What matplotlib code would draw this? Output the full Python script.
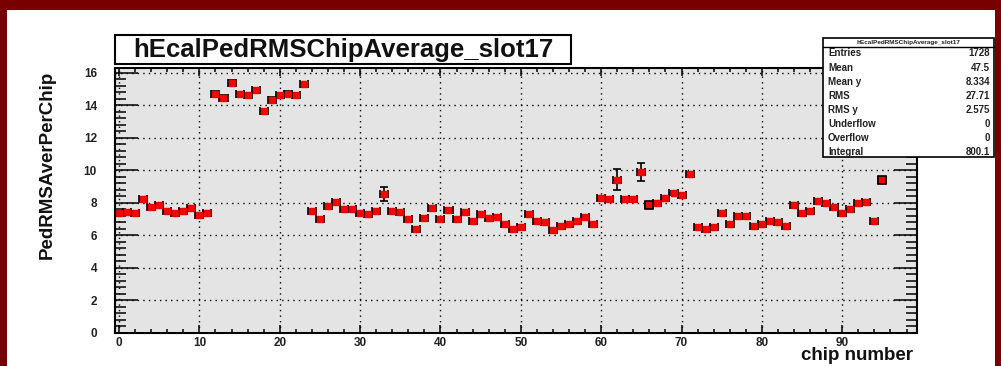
import matplotlib
matplotlib.use("Agg")
import matplotlib.pyplot as plt
from matplotlib.patches import Rectangle
from matplotlib.ticker import MultipleLocator
import numpy as np

plt.rcParams['font.family'] = ['Liberation Sans', 'DejaVu Sans']

# ---------------- data ----------------
chips = list(range(96))
rms_values = [
    7.34, 7.44, 7.34, 8.20, 7.75, 7.85, 7.50, 7.34, 7.50, 7.65, 7.24, 7.34,
    14.70, 14.46, 15.38, 14.66, 14.60, 14.90, 13.62, 14.34, 14.60, 14.70, 14.60, 15.28,
    7.46, 6.97, 7.78, 8.04, 7.61, 7.61, 7.35, 7.29, 7.51, 8.54, 7.46, 7.40,
    6.99, 6.39, 7.03, 7.68, 6.99, 7.53, 6.97, 7.40, 6.88, 7.29, 7.03, 7.14,
    6.67, 6.39, 6.49, 7.31, 6.88, 6.82, 6.32, 6.54, 6.67, 6.88, 7.10, 6.67,
    8.27, 8.21, 9.42, 8.21, 8.21, 9.88, 7.85, 8.00, 8.31, 8.58, 8.48, 9.79,
    6.50, 6.40, 6.50, 7.38, 6.67, 7.17, 7.17, 6.54, 6.71, 6.88, 6.81, 6.54,
    7.85, 7.38, 7.50, 8.12, 8.00, 7.75, 7.38, 7.58, 8.00, 8.06, 6.88, 9.38,
]
rms_errors = [
    0.12, 0.12, 0.12, 0.12, 0.12, 0.12, 0.12, 0.12, 0.12, 0.12, 0.12, 0.12,
    0.14, 0.14, 0.14, 0.14, 0.14, 0.14, 0.14, 0.14, 0.14, 0.14, 0.14, 0.14,
    0.12, 0.12, 0.12, 0.12, 0.12, 0.12, 0.12, 0.12, 0.12, 0.45, 0.12, 0.12,
    0.12, 0.12, 0.12, 0.12, 0.12, 0.12, 0.12, 0.12, 0.12, 0.12, 0.12, 0.12,
    0.12, 0.12, 0.12, 0.12, 0.12, 0.12, 0.12, 0.12, 0.12, 0.12, 0.12, 0.12,
    0.12, 0.12, 0.62, 0.12, 0.12, 0.54, 0.15, 0.12, 0.12, 0.12, 0.12, 0.12,
    0.12, 0.12, 0.12, 0.12, 0.12, 0.12, 0.12, 0.12, 0.12, 0.12, 0.12, 0.12,
    0.12, 0.12, 0.12, 0.12, 0.12, 0.12, 0.12, 0.12, 0.12, 0.12, 0.12, 0.15,
]
outlined_chips = [66, 95]

title_text = "hEcalPedRMSChipAverage_slot17"
x_label = "chip number"
y_label = "PedRMSAverPerChip"
stats_names = ["Entries", "Mean", "Mean y", "RMS", "RMS y", "Underflow", "Overflow", "Integral"]
stats_values = ["1728", "47.5", "8.334", "27.71", "2.575", "0", "0", "800.1"]

# ---------------- figure ----------------
W, H = 1001, 366
fig = plt.figure(figsize=(W / 100, H / 100), dpi=100, facecolor="#780000")

def fx(px):
    return px / W

def fy(py):
    return 1 - py / H

# white canvas inside dark-red border
fig.patches.append(Rectangle((fx(7), 0), fx(995) - fx(7), fy(10), transform=fig.transFigure,
                             facecolor="white", edgecolor="none", zorder=-5))

ax_l, ax_r, ax_t, ax_b = 115, 917, 67.7, 332.7
ax = fig.add_axes([fx(ax_l), fy(ax_b), fx(ax_r) - fx(ax_l), fy(ax_t) - fy(ax_b)])
ax.set_zorder(1)
ax.set_facecolor("#e4e4e4")

x = np.array(chips)
y = np.array(rms_values)
e = np.array(rms_errors)
ax.errorbar(x, y, xerr=0.5, yerr=e, fmt="none", ecolor="black", elinewidth=1.2,
            capsize=2.6, capthick=1.2, zorder=3)
ax.plot(x, y, linestyle="none", marker="s", markersize=4.2, color="#ff0000",
        markeredgecolor="#ee0000", zorder=4)
ox = np.array(outlined_chips)
ax.plot(ox, y[ox], linestyle="none", marker="s", markersize=5.6, color="#ff0000",
        markeredgecolor="black", markeredgewidth=1.2, zorder=5)

ax.set_xlim(-0.5, 99.3)
ax.set_ylim(0, 16.3)
ax.xaxis.set_major_locator(MultipleLocator(10))
ax.xaxis.set_minor_locator(MultipleLocator(2))
ax.yaxis.set_major_locator(MultipleLocator(2))
ax.yaxis.set_minor_locator(MultipleLocator(0.4))

ax.grid(True, which="major", color="black", linestyle=(0, (1, 3)), linewidth=1.0)
ax.set_axisbelow(False)

for s in ax.spines.values():
    s.set_linewidth(1.5)
    s.set_zorder(6)

ax.tick_params(axis="both", which="both", direction="in", top=True, right=True,
               width=1.1, colors="black")
ax.tick_params(axis="y", which="major", length=16.5, pad=13)
ax.tick_params(axis="y", which="minor", length=8)
ax.tick_params(axis="x", which="major", length=6, pad=3)
ax.tick_params(axis="x", which="minor", length=3)
for lab in ax.get_xticklabels() + ax.get_yticklabels():
    lab.set_fontsize(8.5)
    lab.set_fontweight("bold")
    lab.set_color("#222222")

# axis labels
fig.text(fx(913), fy(356), x_label, ha="right", va="center", fontsize=13.5,
         fontweight="bold", color="#111111")
fig.text(fx(47), fy(165), y_label, ha="center", va="center", rotation=90,
         fontsize=13.5, fontweight="bold", color="#111111")

# title box
tb_l, tb_r, tb_t, tb_b = 115, 571, 35, 64
fig.patches.append(Rectangle((fx(tb_l), fy(tb_b)), fx(tb_r) - fx(tb_l), fy(tb_t) - fy(tb_b),
                             transform=fig.transFigure, facecolor="white",
                             edgecolor="black", linewidth=1.5, zorder=10))
fig.text(fx((tb_l + tb_r) / 2), fy((tb_t + tb_b) / 2 + 1), title_text, ha="center",
         va="center", fontsize=18.5, fontweight="bold", color="#111111", zorder=11)

# stats box
sb_l, sb_r, sb_t, sb_b = 823, 994, 38, 157
fig.patches.append(Rectangle((fx(sb_l), fy(sb_b)), fx(sb_r) - fx(sb_l), fy(sb_t) - fy(sb_b),
                             transform=fig.transFigure, facecolor="white",
                             edgecolor="black", linewidth=1.2, zorder=10))
hdr_b = 46.5
fig.lines.append(plt.Line2D([fx(sb_l), fx(sb_r)], [fy(hdr_b), fy(hdr_b)],
                            transform=fig.transFigure, color="black", linewidth=1.0, zorder=11))
fig.text(fx((sb_l + sb_r) / 2), fy(42.3), title_text, ha="center", va="center",
         fontsize=4.6, fontweight="bold", color="#222222", zorder=12)
row0, row_step = 53.5, 14.1
for i, (nm, val) in enumerate(zip(stats_names, stats_values)):
    yy = row0 + i * row_step
    fig.text(fx(sb_l + 5), fy(yy), nm, ha="left", va="center", fontsize=7,
             fontweight="bold", color="#222222", zorder=12)
    fig.text(fx(sb_r - 4), fy(yy), val, ha="right", va="center", fontsize=7,
             fontweight="bold", color="#222222", zorder=12)

fig.savefig("out.png", dpi=100, facecolor=fig.get_facecolor())
